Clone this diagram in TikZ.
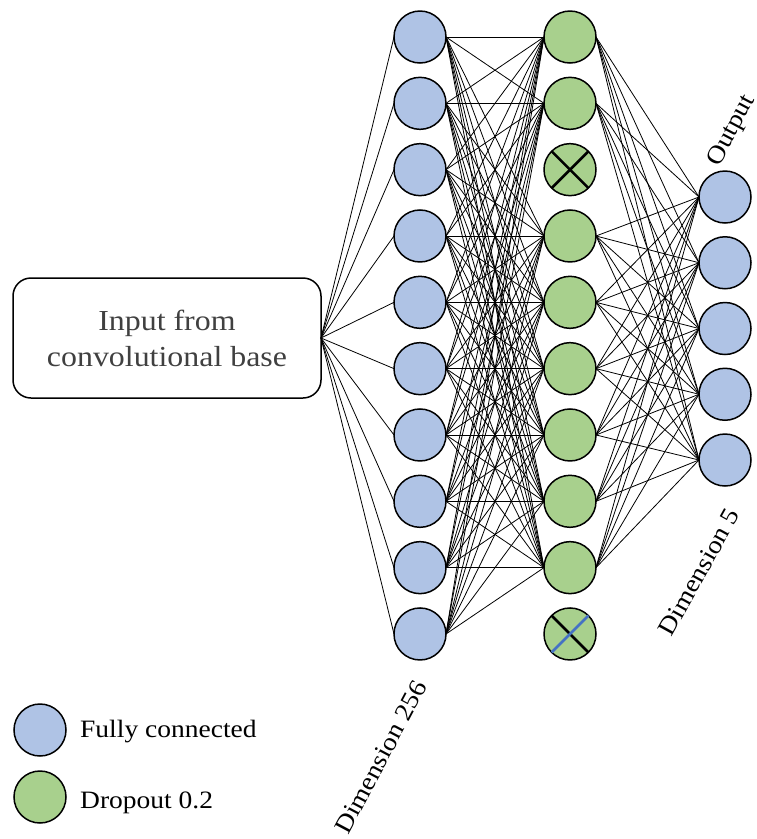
\documentclass[tikz,border=0pt]{standalone}
\usepackage{fontspec}
\setmainfont[FakeStretch=1.1]{Liberation Serif}
\definecolor{fcblue}{HTML}{AFC3E5}
\definecolor{dogreen}{HTML}{A8D08D}
\definecolor{xblue}{HTML}{4472C4}
\begin{document}
\begin{tikzpicture}[x=1pt,y=-1pt,
  neuron/.style={circle, draw=black, line width=1.5pt, minimum size=52pt, inner sep=0pt, outer sep=0pt},
  fc/.style={neuron, fill=fcblue},
  dp/.style={neuron, fill=dogreen},
  conn/.style={draw=black, line width=0.8pt},
  crossline/.style={line width=2.6pt},
  lbl/.style={font=\fontsize{25}{30}\selectfont, text=black, inner sep=0pt},
  inbox/.style={draw=black, line width=1.5pt, rounded corners=18pt, minimum width=308pt, minimum height=120pt, align=center, font=\fontsize{29}{36}\selectfont, text=black!75, outer sep=0pt}]
\useasboundingbox (0,0) rectangle (757,839);

% input box
\node[inbox] (inp) at (167,338) {Input from\\convolutional base};

% layers
\foreach \i in {0,...,9} {
  \node[fc] (b\i) at (420,{37+66.33*\i}) {};
  \node[dp] (g\i) at (570,{37+66.33*\i}) {};
}
\foreach \k in {0,...,4} {
  \node[fc] (o\k) at (725,{197+65.75*\k}) {};
}

% connections
\foreach \i in {0,...,9} {
  \draw[conn] (inp.east) -- (b\i.west);
  \foreach \j in {0,1,3,4,5,6,7,8} {
    \draw[conn] (b\i.east) -- (g\j.west);
  }
}
\foreach \j in {0,1,3,4,5,6,7,8} {
  \foreach \k in {0,...,4} {
    \draw[conn] (g\j.east) -- (o\k.west);
  }
}

% dropped neurons
\draw[crossline] (g2.north west) -- (g2.south east);
\draw[crossline] (g2.north east) -- (g2.south west);
\draw[crossline] (g9.north west) -- (g9.south east);
\draw[crossline, draw=xblue] (g9.north east) -- (g9.south west);

% labels
\node[lbl, rotate=62] (d256) at (381,757) {Dimension 256};
\node[lbl, rotate=61] (d5) at (699,572) {Dimension 5};
\node[lbl, rotate=62] (outl) at (732,131) {Output};

% legend
\node[fc] (legb) at (40,730) {};
\node[lbl, anchor=base west] (legbt) at (80,737) {Fully connected};
\node[dp] (legg) at (40,797) {};
\node[lbl, anchor=base west] (leggt) at (80,808) {Dropout 0.2};
\end{tikzpicture}
\end{document}
